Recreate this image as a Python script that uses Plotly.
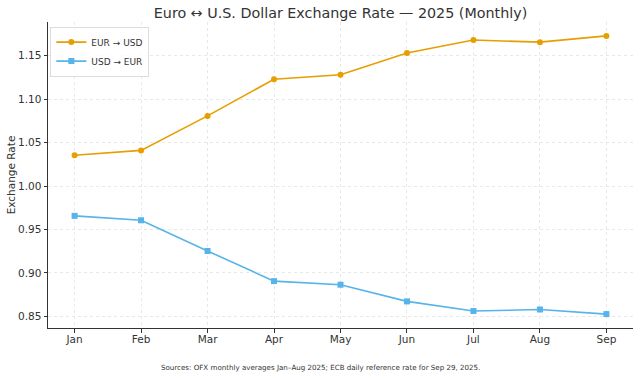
import plotly.graph_objects as go

months = ["Jan", "Feb", "Mar", "Apr", "May", "Jun", "Jul", "Aug", "Sep"]
eur_usd = [1.0355, 1.0410, 1.0807, 1.1229, 1.1281, 1.1530, 1.1680, 1.1655, 1.1727]
usd_eur = [0.9657, 0.9606, 0.9253, 0.8906, 0.8865, 0.8673, 0.8562, 0.8580, 0.8527]
y_ticks = [0.85, 0.90, 0.95, 1.00, 1.05, 1.10, 1.15]

FONT = "DejaVu Sans, sans-serif"
x = list(range(len(months)))
fig = go.Figure()
fig.add_trace(go.Scatter(x=x, y=eur_usd, mode="lines+markers", name="EUR → USD",
                         line=dict(color="#E69F00", width=1.6),
                         marker=dict(symbol="circle", size=6, color="#E69F00")))
fig.add_trace(go.Scatter(x=x, y=usd_eur, mode="lines+markers", name="USD → EUR",
                         line=dict(color="#56B4E9", width=1.6),
                         marker=dict(symbol="square", size=6, color="#56B4E9")))

L, R, T, B = 48, 7, 22, 50
fig.update_layout(
    width=640, height=378,
    margin=dict(l=L, r=R, t=T, b=B),
    paper_bgcolor="white", plot_bgcolor="white",
    font=dict(family=FONT, color="#333333"),
    title=dict(text="Euro ↔ U.S. Dollar Exchange Rate — 2025 (Monthly)",
               x=(L + 633) / 2 / 640, xanchor="center", y=1 - 13 / 378, yanchor="middle",
               font=dict(size=14.3, color="#333333")),
    legend=dict(x=0.004, y=0.985, xanchor="left", yanchor="top",
                bgcolor="rgba(255,255,255,0.8)", bordercolor="#dddddd", borderwidth=1,
                font=dict(size=9, color="#333333"), itemwidth=30, tracegroupgap=0),
    xaxis=dict(range=[-0.4, 8.4], tickmode="array", tickvals=x, ticktext=months,
               showline=True, linecolor="#333333", linewidth=1,
               ticks="outside", ticklen=3.5, tickcolor="#333333", ticklabelstandoff=-2,
               showgrid=True, gridcolor="#e8e8e8", griddash="dot", gridwidth=0.8,
               zeroline=False, tickfont=dict(size=10.5, color="#333333")),
    yaxis=dict(range=[0.8367, 1.1887], tickmode="array", tickvals=y_ticks,
               ticktext=[f"{v:.2f}" for v in y_ticks],
               showline=True, linecolor="#333333", linewidth=1,
               ticks="outside", ticklen=3.5, tickcolor="#333333",
               showgrid=True, gridcolor="#e8e8e8", griddash="dot", gridwidth=0.8,
               zeroline=False, tickfont=dict(size=10.5, color="#333333"),
               title=dict(text="Exchange Rate", font=dict(size=10.5, color="#333333"), standoff=0)),
    annotations=[dict(text="Sources: OFX monthly averages Jan–Aug 2025; ECB daily reference rate for Sep 29, 2025.",
                      xref="paper", yref="paper", x=(320 - L) / (640 - L - R),
                      y=-(367 - 328) / (378 - T - B),
                      xanchor="center", yanchor="middle", showarrow=False,
                      font=dict(size=7.1, color="#333333"))],
)
fig.write_html("out.html", post_script="document.body.style.margin='0';",
               config={"displayModeBar": False})
